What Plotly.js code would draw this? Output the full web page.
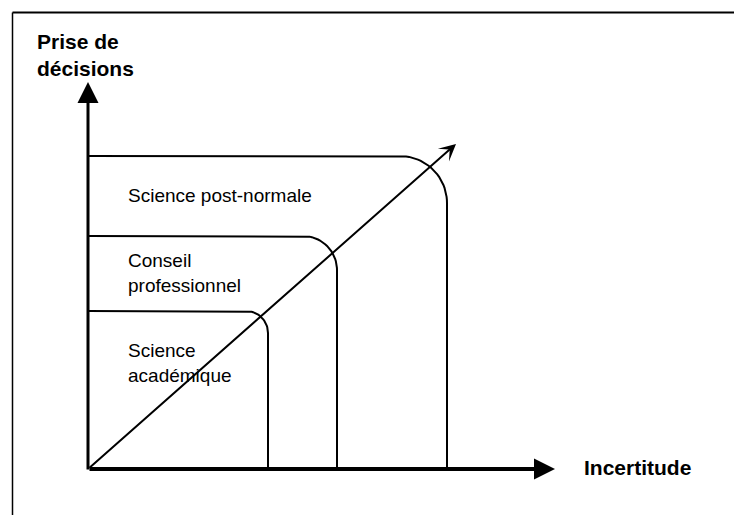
<!DOCTYPE html>
<html>
<head>
<meta charset="utf-8">
<script src="https://cdn.plot.ly/plotly-3.0.1.min.js"></script>
<style>html,body{margin:0;padding:0;background:#fff;}</style>
</head>
<body>
<div id="chart" style="width:734px;height:515px;"></div>
<script>
// ---- data (diagram units: origin at the axes corner) ----
const categories = ["Science académique", "Conseil professionnel", "Science post-normale"];
const categoryLabels = ["Science<br>académique", "Conseil<br>professionnel", "Science post-normale"];
const uncertaintyExtent = [180, 249, 359];   // Incertitude reach of each domain
const decisionExtent = [158, 233, 313];      // Prise de décisions reach of each domain
const cornerRadius = [22, 34, 47];
const axisLength = [467, 387];               // [Incertitude axis, Prise de décisions axis]
const diagonalEnd = [368, 325];
const xAxisTitle = "Incertitude";
const yAxisTitle = "Prise de<br>décisions";

// ---- label anchors ----
const labelX = 38;
const labelY = [106.5, 196.5, 274];

const traces = categories.map((name, i) => {
  const w = uncertaintyExtent[i], h = decisionExtent[i], r = cornerRadius[i];
  const xs = [0], ys = [h];
  const n = 24;
  for (let k = 0; k <= n; k++) {
    const t = Math.PI / 2 * (1 - k / n);
    xs.push(w - r + r * Math.cos(t));
    ys.push(h - r + r * Math.sin(t));
  }
  xs.push(w); ys.push(0);
  return {type: 'scatter', mode: 'lines', name: name, x: xs, y: ys,
          line: {color: '#000', width: 2}, hoverinfo: 'skip'};
});

const annotations = [];
categories.forEach((name, i) => {
  annotations.push({x: labelX, y: labelY[i], xref: 'x', yref: 'y', text: categoryLabels[i],
    showarrow: false, xanchor: 'left', yanchor: 'middle', align: 'left',
    font: {family: 'Liberation Sans, Arial, sans-serif', size: 19, color: '#000'}});
});
// axes arrows
annotations.push({x: axisLength[0], y: 0, ax: 0, ay: 0, xref: 'x', yref: 'y', axref: 'x', ayref: 'y',
  text: '', showarrow: true, arrowhead: 2, arrowsize: 1.05, arrowwidth: 4, arrowcolor: '#000', standoff: 0});
annotations.push({x: 0, y: axisLength[1], ax: 0, ay: -2, xref: 'x', yref: 'y', axref: 'x', ayref: 'y',
  text: '', showarrow: true, arrowhead: 2, arrowsize: 1.4, arrowwidth: 3, arrowcolor: '#000', standoff: 0});
annotations.push({x: diagonalEnd[0], y: diagonalEnd[1], ax: 0, ay: 0, xref: 'x', yref: 'y', axref: 'x', ayref: 'y',
  text: '', showarrow: true, arrowhead: 3, arrowsize: 1.4, arrowwidth: 2, arrowcolor: '#000', standoff: 0});
// axis titles
annotations.push({x: -53, y: 414.5, xref: 'x', yref: 'y', text: '<b>' + yAxisTitle.replace('<br>', '</b><br><b>') + '</b>',
  showarrow: false, xanchor: 'left', yanchor: 'middle', align: 'left',
  font: {family: 'Liberation Sans, Arial, sans-serif', size: 21, color: '#000'}});
annotations.push({x: 494, y: 2, xref: 'x', yref: 'y', text: '<b>' + xAxisTitle + '</b>',
  showarrow: false, xanchor: 'left', yanchor: 'middle',
  font: {family: 'Liberation Sans, Arial, sans-serif', size: 21, color: '#000'}});

const layout = {
  width: 734, height: 515,
  margin: {l: 0, r: 0, t: 0, b: 0, pad: 0},
  paper_bgcolor: '#fff', plot_bgcolor: '#fff',
  showlegend: false,
  xaxis: {range: [-88, 646], visible: false, fixedrange: true},
  yaxis: {range: [-46, 469], visible: false, fixedrange: true},
  annotations: annotations,
  shapes: [
    {type: 'line', xref: 'paper', yref: 'paper', x0: 12.5/734, x1: 1, y0: 1 - 12.5/515, y1: 1 - 12.5/515, line: {color: '#000', width: 2}},
    {type: 'line', xref: 'paper', yref: 'paper', x0: 12.5/734, x1: 12.5/734, y0: 0, y1: 1 - 12.5/515, line: {color: '#000', width: 1.5}}
  ]
};

Plotly.newPlot('chart', traces, layout, {displayModeBar: false, staticPlot: true});
</script>
</body>
</html>
